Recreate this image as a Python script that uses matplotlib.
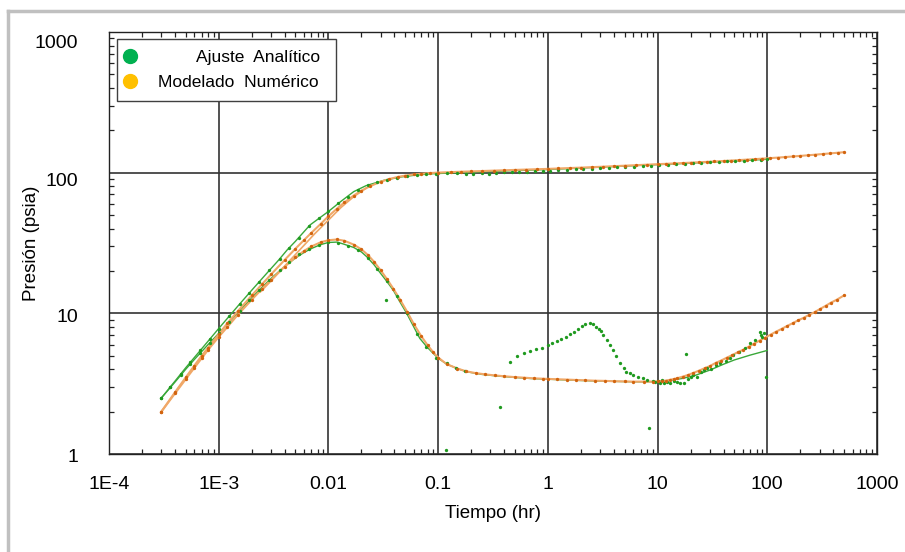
import matplotlib
matplotlib.use("Agg")
import matplotlib.pyplot as plt
from matplotlib.lines import Line2D
from matplotlib.transforms import ScaledTranslation
from matplotlib.ticker import FixedLocator, FixedFormatter, LogLocator, NullFormatter

plt.rcParams['font.family'] = ['Liberation Sans', 'DejaVu Sans']

# ---------------- data ----------------
x_ticks = [1e-4, 1e-3, 1e-2, 1e-1, 1, 10, 100, 1000]
x_tick_labels = ['1E-4', '1E-3', '0.01', '0.1', '1', '10', '100', '1000']
y_ticks = [1, 10, 100, 1000]
y_tick_labels = ['1', '10', '100', '1000']

legend_labels = ['        Ajuste  Analítico ', 'Modelado  Numérico ']

# Numerical model: pressure change
t_num_p = [3e-4, 4e-4, 5e-4, 6e-4, 7e-4, 8e-4, 1e-3, 1.2e-3, 1.5e-3, 2e-3, 2.5e-3, 3e-3,
           4e-3, 5e-3, 6e-3, 7e-3, 8.5e-3, 0.01, 0.012, 0.014, 0.017, 0.02, 0.024, 0.03,
           0.036, 0.043, 0.05, 0.06, 0.07, 0.085, 0.1, 0.13, 0.16, 0.2, 0.25, 0.32, 0.4,
           0.5, 0.63, 0.8, 1, 1.25, 1.6, 2, 2.5, 3.2, 4, 5, 6.3, 8, 10, 12, 14, 17, 20,
           24, 28, 33, 40, 47, 55, 65, 77, 90, 105, 125, 145, 170, 200, 235, 275, 320,
           375, 440, 500]
p_num_p = [2.0, 2.75, 3.5, 4.25, 5.0, 5.7, 7.1, 8.5, 10.4, 13.4, 16.2, 18.9,
           24.0, 28.8, 33.2, 37.4, 43.2, 49.0, 55.6, 61.5, 68.8, 74.5, 80.2, 86.3,
           90.2, 93.3, 95.3, 97.1, 98.3, 99.4, 100.1, 100.9, 101.5, 102.1, 102.7, 103.4, 104.0,
           104.6, 105.2, 105.8, 106.4, 107.1, 107.9, 108.6, 109.4, 110.3, 111.2, 112.1, 113.0, 114.0, 114.9,
           115.6, 116.2, 117.0, 117.8, 118.6, 119.3, 120.1, 121.1, 121.9, 122.8, 123.8, 124.8, 125.8,
           126.8, 128.0, 129.1, 130.3, 131.6, 132.9, 134.3, 135.7, 137.1, 138.6, 139.8]

# Numerical model: pressure derivative
t_num_d = [3e-4, 4e-4, 5e-4, 6e-4, 7e-4, 8e-4, 1e-3, 1.2e-3, 1.5e-3, 2e-3, 2.5e-3, 3e-3,
           4e-3, 5e-3, 6e-3, 7e-3, 8.5e-3, 0.01, 0.012, 0.014, 0.017, 0.02, 0.023, 0.026,
           0.03, 0.034, 0.039, 0.045, 0.052, 0.06, 0.07, 0.08, 0.09, 0.1, 0.12, 0.15, 0.18,
           0.22, 0.27, 0.33, 0.4, 0.5, 0.6, 0.75, 0.9, 1.0, 1.2, 1.5, 1.8, 2.2, 2.7, 3.3,
           4, 5, 6, 7.5, 9, 10, 11, 12, 13, 14, 15, 17, 19, 21, 24, 27, 30, 34, 38, 43, 48,
           54, 60, 68, 76, 85, 95, 107, 120, 135, 150, 170, 190, 215, 240, 270, 300, 340,
           380, 430, 500]
p_num_d = [2.0, 2.7, 3.4, 4.1, 4.8, 5.5, 6.8, 8.0, 9.8, 12.5, 15.0, 17.3,
           21.5, 25.0, 27.8, 29.9, 32.0, 33.1, 33.5, 32.8, 30.8, 28.5, 25.9, 23.3,
           20.2, 17.6, 15.0, 12.5, 10.3, 8.4, 6.9, 5.95, 5.3, 4.85, 4.35, 4.05, 3.87,
           3.76, 3.68, 3.62, 3.57, 3.52, 3.49, 3.45, 3.43, 3.42, 3.40, 3.38, 3.36, 3.34, 3.32, 3.31,
           3.29, 3.28, 3.27, 3.27, 3.27, 3.28, 3.3, 3.33, 3.37, 3.41, 3.45, 3.55, 3.65, 3.76, 3.92, 4.08, 4.22, 4.45, 4.62, 4.85, 5.05,
           5.3, 5.5, 5.8, 6.1, 6.4, 6.7, 7.05, 7.4, 7.75, 8.1, 8.5, 8.9, 9.3, 9.75, 10.2, 10.7, 11.3,
           11.9, 12.5, 13.4]

# Numerical model: short early pressure branch
t_num_b = [2.4e-3, 3e-3, 3.8e-3, 4.8e-3, 6e-3, 7.5e-3, 0.01, 0.013, 0.017, 0.022]
p_num_b = [14.2, 17.0, 20.8, 25.3, 30.5, 36.8, 46.0, 56.5, 67.5, 77.5]

# Analytical fit: pressure change
t_ana_p = [3e-4, 4e-4, 5e-4, 7e-4, 1e-3, 1.5e-3, 2e-3, 2.7e-3, 3.5e-3, 4.2e-3,
           5e-3, 6.8e-3, 0.01, 0.013, 0.017, 0.022, 0.032, 0.045, 0.064, 0.09,
           0.12, 0.2, 0.4, 1, 2, 5, 10, 20, 50, 100]
p_ana_p = [2.5, 3.3, 4.1, 5.6, 7.8, 11.3, 14.6, 19.0, 23.8, 28.2,
           32.5, 42.5, 53.0, 62.5, 73.3, 80.8, 88.2, 93.0, 96.3, 98.3,
           99.2, 100.8, 102.8, 105.3, 107.8, 111.3, 114.0, 116.8, 121.0, 124.5]

# Analytical fit: pressure derivative
t_ana_d = [3e-4, 4e-4, 5e-4, 6e-4, 7e-4, 8e-4, 1e-3, 1.2e-3, 1.5e-3, 2e-3, 2.5e-3, 3e-3,
           4e-3, 5e-3, 6e-3, 7e-3, 8.5e-3, 0.01, 0.012, 0.0137, 0.017, 0.02, 0.0223, 0.026,
           0.0295, 0.034, 0.039, 0.045, 0.0517, 0.06, 0.068, 0.0787, 0.09, 0.1, 0.12, 0.15,
           0.18, 0.25, 0.35, 0.5, 0.7, 1, 1.5, 2, 3, 5, 7, 10, 13, 17, 22, 30, 40, 50, 70, 100]
p_ana_d = [2.5, 3.25, 4.0, 4.7, 5.35, 6.0, 7.2, 8.4, 10.1, 12.9, 15.4, 17.7,
           21.6, 24.7, 27.1, 28.9, 30.8, 31.9, 32.1, 31.1, 29.4, 27.3, 25.3, 22.2,
           19.5, 16.9, 14.6, 12.0, 10.0, 8.0, 6.64, 5.79, 5.2, 4.8, 4.35, 4.05,
           3.85, 3.68, 3.58, 3.5, 3.44, 3.4, 3.36, 3.33, 3.3, 3.27, 3.26, 3.27, 3.34, 3.45, 3.62, 3.95, 4.35, 4.66, 5.05, 5.45]

# Field data: pressure change
t_dat_p = [3e-4, 3.6e-4, 4.5e-4, 5.5e-4, 6.8e-4, 8.3e-4, 1e-3, 1.25e-3, 1.55e-3, 1.9e-3,
           2.35e-3, 2.9e-3, 3.6e-3, 4.4e-3, 5.4e-3, 6.7e-3, 8.2e-3, 0.01, 0.0123, 0.015,
           0.0185, 0.023, 0.028, 0.034, 0.042, 0.052, 0.064, 0.078, 0.096,
           0.12, 0.15, 0.18, 0.21, 0.25, 0.29, 0.34, 0.4, 0.47, 0.55,
           0.65, 0.77, 0.9, 1.05, 1.25, 1.5, 1.8, 2.1, 2.5, 3.0,
           3.6, 4.3, 5.1, 6.1, 7.3, 8.7, 10.4, 12.4, 14.8, 17.7,
           21, 25, 30, 36, 43, 51, 61, 73, 87, 100]
p_dat_p = [2.5, 3.0, 3.7, 4.5, 5.45, 6.6, 7.8, 9.6, 11.6, 13.9,
           16.8, 20.2, 24.5, 29.0, 34.2, 41.6, 48.0, 53.0, 60.5, 67.5,
           75.0, 81.3, 85.8, 89.4, 92.2, 94.5, 96.3, 97.6, 98.6,
           99.0, 99.6, 98.6, 97.8, 99.0, 97.6, 99.4, 100.3, 100.8, 101.3,
           101.8, 102.5, 103.0, 103.6, 104.3, 104.9, 105.6, 106.2, 106.9, 107.6,
           108.3, 109.0, 109.8, 110.6, 111.4, 112.2, 113.1, 113.9, 114.8, 115.7,
           116.5, 117.4, 118.3, 119.2, 120.1, 121.0, 122.0, 122.9, 123.7, 124.4]

# Field data: pressure derivative
t_dat_d = [3e-4, 3.6e-4, 4.5e-4, 5.5e-4, 6.8e-4, 8.3e-4, 1e-3, 1.25e-3, 1.55e-3, 1.9e-3,
           2.35e-3, 2.9e-3, 3.6e-3, 4.4e-3, 5.4e-3, 6.7e-3, 8.2e-3, 0.01, 0.0123, 0.015,
           0.0185, 0.023, 0.028, 0.0335, 0.034, 0.042, 0.052, 0.064, 0.078, 0.096,
           0.118, 0.12, 0.145, 0.175, 0.366,
           0.45, 0.52, 0.61, 0.69, 0.78, 0.88, 1.0, 1.1, 1.2, 1.31,
           1.45, 1.6, 1.73, 1.9, 2.04, 2.2, 2.43, 2.6, 2.77, 2.9,
           3.04, 3.2, 3.44, 3.7, 3.96, 4.2, 4.55, 4.9, 5.2, 5.6,
           6.0, 6.6, 7.4, 8.0, 8.4, 9.0, 9.5, 10, 10.5, 11,
           11.5, 12.1, 13, 14, 15, 16, 17.3, 18.2, 19, 20,
           21.2, 23, 25, 26.5, 28.1, 31, 34, 37.2, 42, 46,
           49, 55, 62, 69.7, 78, 86, 88, 90, 93, 96.8]
p_dat_d = [2.5, 3.0, 3.65, 4.35, 5.25, 6.2, 7.2, 8.7, 10.4, 12.4,
           14.6, 17.2, 20.4, 23.2, 26.2, 28.8, 30.6, 31.9, 31.7, 30.3,
           28.0, 24.8, 20.8, 12.4, 16.9, 13.3, 10.0, 7.1, 5.8, 4.85,
           1.06, 4.4, 4.1, 3.9, 2.17,
           4.5, 5.0, 5.2, 5.4, 5.55, 5.7, 5.95, 6.15, 6.35, 6.53,
           6.8, 7.1, 7.4, 7.8, 8.13, 8.4, 8.58, 8.4, 8.03, 7.8,
           7.53, 7.0, 6.46, 5.95, 5.49, 5.0, 4.42, 4.1, 3.85, 3.75,
           3.64, 3.55, 3.45, 3.38, 1.52, 3.3, 3.25, 3.3, 3.22, 3.35,
           3.2, 3.27, 3.2, 3.32, 3.27, 3.22, 3.18, 5.14, 3.4, 3.5,
           3.64, 3.55, 3.8, 3.95, 4.07, 4.0, 4.3, 4.42, 4.6, 4.85,
           5.06, 5.3, 5.7, 6.12, 6.5, 7.4, 7.0, 6.8, 7.2, 3.51]

# ---------------- styling ----------------
green_line = '#3aa83a'
green_dot = '#1f9a1f'
orange_line = '#f0a868'
orange_dot = '#d2640f'

fig = plt.figure(figsize=(9.05, 5.52), dpi=100)
ax = fig.add_axes([109 / 905, 1 - 454 / 552, 768 / 905, 422 / 552])

# analytical fit curves
ax.plot(t_ana_p, p_ana_p, color=green_line, lw=1.0, zorder=2)
ax.plot(t_ana_d, p_ana_d, color=green_line, lw=1.0, zorder=2)

# numerical model curves with their computed points
ax.plot(t_num_b, p_num_b, color=orange_line, lw=1.2, zorder=3)
for tt, pp in ((t_num_p, p_num_p), (t_num_d, p_num_d)):
    ax.plot(tt, pp, color=orange_line, lw=1.5, zorder=3)
    ax.plot(tt, pp, ls='none', marker='o', ms=2.4, mew=0, color=orange_dot, zorder=5)

# field data points
ax.plot(t_dat_p, p_dat_p, ls='none', marker='o', ms=2.4, mew=0, color=green_dot, zorder=4)
ax.plot(t_dat_d, p_dat_d, ls='none', marker='o', ms=2.4, mew=0, color=green_dot, zorder=4)

ax.set_xscale('log')
ax.set_yscale('log')
ax.set_xlim(1e-4, 1000)
ax.set_ylim(1, 1000)

ax.xaxis.set_major_locator(FixedLocator(x_ticks))
ax.xaxis.set_major_formatter(FixedFormatter(x_tick_labels))
ax.yaxis.set_major_locator(FixedLocator(y_ticks))
ax.yaxis.set_major_formatter(FixedFormatter(y_tick_labels))
ax.xaxis.set_minor_locator(LogLocator(base=10, subs=range(2, 10), numticks=20))
ax.yaxis.set_minor_locator(LogLocator(base=10, subs=range(2, 10), numticks=20))
ax.xaxis.set_minor_formatter(NullFormatter())
ax.yaxis.set_minor_formatter(NullFormatter())

ax.tick_params(which='both', direction='in', top=True, right=True, color='#222222')
ax.tick_params(which='minor', length=3.5, width=0.9)
ax.tick_params(which='major', length=0)
ax.tick_params(axis='x', which='major', labelsize=14, pad=16)
ax.tick_params(axis='y', which='major', labelsize=14, pad=22)

# the upper value labels sit a little below their gridlines
y_label_drop_px = [2, 2, 7, 9]
for tick, dy in zip(ax.yaxis.get_major_ticks(), y_label_drop_px):
    tick.label1.set_transform(tick.label1.get_transform()
                              + ScaledTranslation(0, -dy / 100, fig.dpi_scale_trans))

ax.grid(True, which='major', color='#333333', lw=1.2)
ax.set_axisbelow(True)
for sp in ax.spines.values():
    sp.set_color('#222222')
    sp.set_linewidth(1.0)

ax.set_xlabel('Tiempo (hr)', fontsize=13.5)
ax.set_ylabel('Presión (psia)', fontsize=13.5)
ax.xaxis.set_label_coords(0.5, (454 - 505) / 422)
ax.yaxis.set_label_coords((40 - 109) / 768, 0.5)

handles = [Line2D([], [], ls='none', marker='o', ms=10, color='#00b050'),
           Line2D([], [], ls='none', marker='o', ms=10, color='#ffc000')]
leg = ax.legend(handles, legend_labels, loc='upper left',
                bbox_to_anchor=((117 - 109) / 768, (454 - 39) / 422),
                borderaxespad=0, frameon=True, fancybox=False, framealpha=1,
                edgecolor='#404040', fontsize=12.5, handlelength=0.2,
                handletextpad=1.52, labelspacing=0.53, borderpad=0.64)
leg.get_frame().set_linewidth(1.0)
leg.set_zorder(10)

# outer frame of the figure
fig.add_artist(Line2D([8 / 905, 1.0], [1 - 11 / 552, 1 - 11 / 552],
                      transform=fig.transFigure, color='#c0c0c0', lw=2.5))
fig.add_artist(Line2D([8 / 905, 8 / 905], [0.0, 1 - 11 / 552],
                      transform=fig.transFigure, color='#c0c0c0', lw=2.5))

fig.savefig('out.png', dpi=100)
